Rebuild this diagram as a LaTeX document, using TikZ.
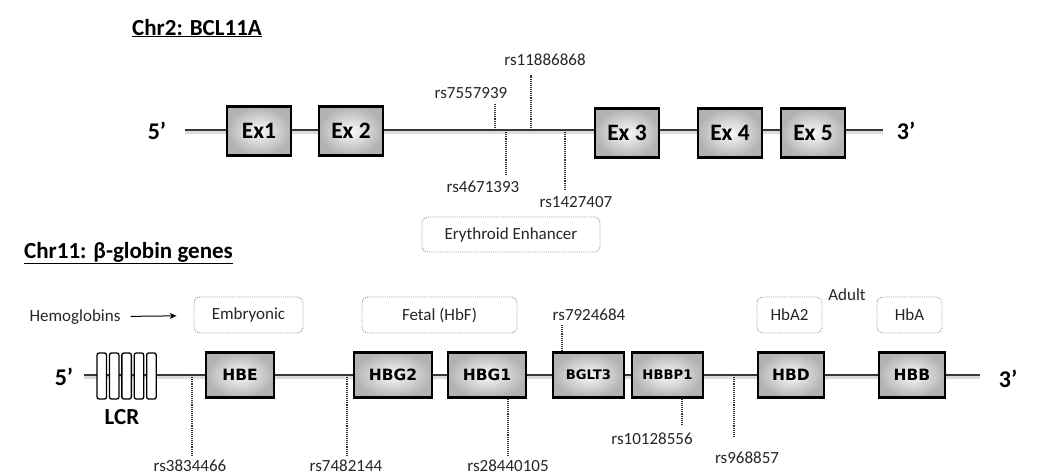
\documentclass[tikz,border=0pt]{standalone}
\usepackage{fontspec}
\setmainfont{Carlito}
\newfontfamily\genefont{DejaVu Sans}
\usetikzlibrary{arrows.meta}
\begin{document}
\begin{tikzpicture}[x=1pt,y=-1pt,
  lbl/.style={font=\fontsize{17}{20}\selectfont, inner sep=0pt, text=black!85},
  ttl/.style={font=\bfseries\fontsize{23}{26}\selectfont, inner sep=0pt, anchor=base west},
  endlbl/.style={font=\bfseries\fontsize{24}{26}\selectfont, inner sep=0pt},
  backbone/.style={draw=black!78, line width=2.6pt},
  bbshadow/.style={draw=black!14, line width=4pt},
  exon/.style={draw=black, line width=2.4pt, inner color=white!96!gray, outer color=gray!60,
     minimum width=64pt, minimum height=49pt, inner sep=0pt, font=\bfseries\fontsize{23.5}{25}\selectfont},
  gene/.style={draw=black, line width=2.4pt, inner color=white!96!gray, outer color=gray!60,
     minimum height=45pt, inner sep=0pt, font=\genefont\bfseries\fontsize{15.5}{17}\selectfont},
  smallgene/.style={gene, font=\genefont\bfseries\fontsize{13.2}{15}\selectfont},
  lcrbox/.style={draw=black, fill=white, line width=1.3pt, rounded corners=2pt,
     minimum width=9.5pt, minimum height=46pt, inner sep=0pt},
  snp/.style={draw=black!80, line width=1.3pt, dash pattern=on 1.1pt off 1pt},
  stagebox/.style={draw=black!40, line width=0.9pt, dash pattern=on 1pt off 1.2pt,
     rounded corners=6pt, minimum height=36pt, inner sep=0pt, font=\fontsize{17}{20}\selectfont, text=black!85},
  arr/.style={draw=black, line width=1pt, -{Stealth[length=7pt,width=6pt]}}
]
\useasboundingbox (0,0) rectangle (1038,475);

% ---------------- Chr2: BCL11A ----------------
\node[ttl] (t1) at (132,35) {\underline{Chr2: BCL11A}};
\coordinate (a5) at (185,130);
\coordinate (a3) at (883,130);
\draw[bbshadow] ([yshift=-2pt]a5) -- ([yshift=-2pt]a3);
\draw[backbone] (a5) -- (a3);
\node[endlbl] (p5a) at (157,131) {5’};
\node[endlbl] (p3a) at (906,131) {3’};

\node[exon] (ex1) at (259,131) {Ex1};
\node[exon] (ex2) at (351,131) {Ex 2};
\node[exon] (ex3) at (627,133) {Ex 3};
\node[exon] (ex4) at (730,133) {Ex 4};
\node[exon] (ex5) at (813,133) {Ex 5};

% SNPs on BCL11A
\coordinate (s1a) at (495,130); \coordinate (s1b) at (495,103);
\coordinate (s2a) at (531,130); \coordinate (s2b) at (531,75);
\coordinate (s3a) at (506,130); \coordinate (s3b) at (506,175);
\coordinate (s4a) at (565,130); \coordinate (s4b) at (565,190);
\draw[snp] (s1a) -- (s1b);
\draw[snp] (s2a) -- (s2b);
\draw[snp] (s3a) -- (s3b);
\draw[snp] (s4a) -- (s4b);
\node[lbl] (r1) at (471,93) {rs7557939};
\node[lbl] (r2) at (545,60) {rs11886868};
\node[lbl] (r3) at (483,187) {rs4671393};
\node[lbl] (r4) at (576,202) {rs1427407};
\node[stagebox, minimum width=178pt, minimum height=35pt] (enh) at (511,234.5) {Erythroid Enhancer};

% ---------------- Chr11: beta-globin ----------------
\node[ttl] (t2) at (24,258) {\underline{Chr11: β-globin genes}};
\coordinate (b5) at (84,375);
\coordinate (b3) at (980,375);
\draw[bbshadow] ([yshift=-2pt]b5) -- ([yshift=-2pt]b3);
\draw[backbone] (b5) -- (b3);
\node[endlbl] (p5b) at (64,377) {5’};
\node[endlbl] (p3b) at (1008,379) {3’};

% LCR
\node[lcrbox] (l1) at (101.8,376) {};
\node[lcrbox] (l2) at (114.2,376) {};
\node[lcrbox] (l3) at (126.6,376) {};
\node[lcrbox] (l4) at (139.0,376) {};
\node[lcrbox] (l5) at (151.4,376) {};
\node[endlbl, font=\bfseries\fontsize{23}{25}\selectfont] (lcr) at (122,417) {LCR};

% stage boxes
\node[lbl] (hemo) at (75,317) {Hemoglobins};
\node[stagebox, minimum width=109pt] (emb) at (248.5,315) {Embryonic};
\node[stagebox, minimum width=155pt] (fet) at (439.5,315) {Fetal (HbF)};
\node[stagebox, minimum width=65pt] (hba2) at (789.5,315) {HbA2};
\node[stagebox, minimum width=65pt] (hba) at (909.5,315) {HbA};
\node[lbl] (adult) at (847,295) {Adult};
\draw[arr, shorten <=10pt, shorten >=17pt] (hemo) -- (emb);

% genes
\node[gene, minimum width=68pt] (hbe) at (240,375) {HBE};
\node[gene, minimum width=78pt] (hbg2) at (393,375) {HBG2};
\node[gene, minimum width=78pt] (hbg1) at (487,375) {HBG1};
\node[smallgene, minimum width=71pt] (bglt3) at (588.5,375) {BGLT3};
\node[smallgene, minimum width=71pt] (hbbp1) at (667.5,375) {HBBP1};
\node[gene, minimum width=66pt] (hbd) at (791,375) {HBD};
\node[gene, minimum width=66pt] (hbb) at (912,375) {HBB};

% SNPs on beta-globin locus
\coordinate (q1a) at (192,375); \coordinate (q1b) at (192,456);
\coordinate (q2a) at (347,375); \coordinate (q2b) at (347,456);
\coordinate (q3b) at (508,456);
\coordinate (q4b) at (562,325);
\coordinate (q5b) at (682,425);
\coordinate (q6a) at (734,375); \coordinate (q6b) at (734,437);
\draw[snp] (q1a) -- (q1b);
\draw[snp] (q2a) -- (q2b);
\draw[snp] (hbg1.south -| q3b) -- (q3b);
\draw[snp] (bglt3.north -| q4b) -- (q4b);
\draw[snp] (hbbp1.south -| q5b) -- (q5b);
\draw[snp] (q6a) -- (q6b);
\node[lbl] (r5) at (190,466) {rs3834466};
\node[lbl] (r6) at (346,466) {rs7482144};
\node[lbl] (r7) at (508,466) {rs28440105};
\node[lbl] (r8) at (589,315) {rs7924684};
\node[lbl] (r9) at (652,439) {rs10128556};
\node[lbl] (r10) at (747,457.5) {rs968857};
\end{tikzpicture}
\end{document}
